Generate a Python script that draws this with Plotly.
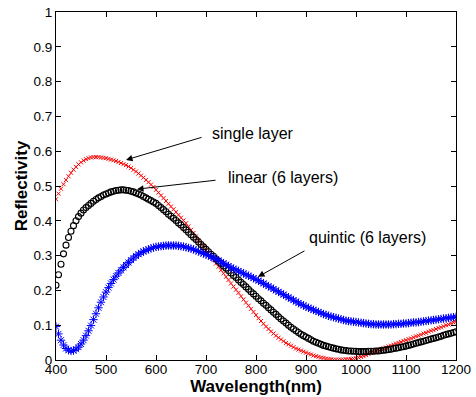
import plotly.graph_objects as go

wavelength = list(range(400, 1201, 5))

single_layer = [
    .462, .478, .492, .505, .517, .528, .538, .547, .555, .562,
    .568, .573, .577, .580, .582, .583, .583, .583, .582, .581,
    .580, .578, .576, .574, .572, .569, .566, .563, .560, .556,
    .5515, .5465, .5415, .536, .530, .524, .5175, .511, .504, .497,
    .489, .481, .473, .465, .457, .449, .441, .433, .425, .417,
    .409, .401, .393, .384, .374, .365, .355, .345, .335, .325,
    .315, .306, .296, .287, .277, .268, .258, .249, .239, .230,
    .220, .211, .202, .193, .183, .174, .165, .156, .147, .138,
    .129, .120, .112, .104, .096, .089, .082, .076, .070, .064,
    .059, .054, .049, .045, .041, .037, .033, .030, .027, .024,
    .021, .018, .016, .013, .011, .009, .007, .006, .004, .003,
    .002, .001, .001, .001, .001, .001, .002, .002, .003, .004,
    .005, .007, .009, .011, .014, .017, .020, .023, .026, .029,
    .031, .034, .036, .039, .041, .044, .047, .049, .052, .055,
    .057, .060, .062, .065, .068, .070, .073, .076, .078, .081,
    .084, .086, .089, .092, .094, .097, .100, .102, .105, .108,
    .110,
]

linear_6 = [
    .215, .245, .275, .305, .330, .352, .370, .386, .400, .412,
    .422, .431, .438, .444, .450, .456, .461, .466, .470, .474,
    .477, .480, .483, .485, .487, .488, .489, .489, .488, .487,
    .485, .483, .480, .477, .474, .470, .466, .462, .458, .454,
    .450, .444, .438, .432, .426, .419, .413, .407, .401, .394,
    .388, .381, .374, .367, .360, .353, .346, .339, .332, .325,
    .318, .311, .304, .298, .291, .284, .277, .270, .264, .257,
    .250, .243, .237, .230, .223, .217, .210, .203, .196, .190,
    .183, .176, .170, .163, .157, .150, .144, .137, .131, .124,
    .118, .112, .106, .100, .094, .089, .084, .079, .074, .070,
    .066, .062, .058, .054, .051, .048, .045, .042, .040, .038,
    .036, .034, .032, .031, .029, .028, .027, .026, .026, .025,
    .025, .024, .024, .024, .024, .025, .025, .025, .026, .026,
    .027, .028, .029, .030, .031, .033, .034, .035, .037, .038,
    .040, .042, .044, .046, .048, .050, .052, .054, .056, .058,
    .060, .062, .064, .066, .068, .071, .073, .075, .077, .079,
    .081,
]

quintic_6 = [
    .096, .075, .057, .043, .033, .028, .026, .027, .031, .037,
    .046, .057, .070, .084, .099, .116, .133, .150, .166, .181,
    .195, .208, .220, .231, .241, .250, .258, .266, .273, .280,
    .287, .293, .299, .304, .308, .312, .315, .318, .321, .323,
    .325, .326, .327, .328, .329, .329, .329, .329, .329, .328,
    .327, .326, .324, .322, .320, .318, .315, .312, .309, .306,
    .303, .300, .297, .293, .290, .286, .282, .278, .274, .270,
    .266, .262, .259, .256, .252, .249, .245, .242, .239, .235,
    .232, .228, .224, .220, .216, .212, .208, .204, .200, .196,
    .192, .188, .184, .180, .176, .172, .168, .164, .160, .157,
    .153, .150, .147, .144, .141, .138, .135, .132, .130, .127,
    .125, .123, .121, .119, .117, .115, .113, .112, .111, .110,
    .109, .108, .107, .106, .105, .104, .103, .103, .102, .102,
    .102, .102, .102, .102, .102, .103, .103, .104, .104, .105,
    .105, .106, .107, .108, .108, .109, .110, .111, .112, .113,
    .114, .115, .116, .117, .118, .119, .120, .121, .122, .123,
    .124,
]

x_ticks = [400, 500, 600, 700, 800, 900, 1000, 1100, 1200]
y_ticks = [0, 0.1, 0.2, 0.3, 0.4, 0.5, 0.6, 0.7, 0.8, 0.9, 1]
y_tick_labels = ["0", "0.1", "0.2", "0.3", "0.4", "0.5", "0.6", "0.7", "0.8", "0.9", "1"]

labels = ["single layer", "linear (6 layers)", "quintic (6 layers)"]
label_pos = [(708, 0.652), (740, 0.524), (902, 0.353)]
arrow_tail = [(694, 0.641), (722, 0.517), (900, 0.316)]
arrow_tip = [(540, 0.575), (562, 0.491), (804, 0.239)]

FONT = "Liberation Sans, Arial, Helvetica, sans-serif"

fig = go.Figure()
fig.add_trace(go.Scatter(
    x=wavelength, y=single_layer, mode="markers",
    marker=dict(symbol="x-thin", size=4, line=dict(color="#ff0000", width=1), color="#ff0000"),
    name="single layer"))
fig.add_trace(go.Scatter(
    x=wavelength, y=linear_6, mode="markers",
    marker=dict(symbol="circle-open", size=6, line=dict(color="#000000", width=1.1), color="#000000"),
    name="linear"))
fig.add_trace(go.Scatter(
    x=wavelength, y=quintic_6, mode="markers",
    marker=dict(symbol="asterisk-open", size=7, line=dict(color="#0000ff", width=1), color="#0000ff"),
    name="quintic"))

annotations = []
for txt, (tx, ty) in zip(labels, label_pos):
    annotations.append(dict(x=tx, y=ty, xref="x", yref="y", text=txt, showarrow=False,
                            xanchor="left", yanchor="middle",
                            font=dict(family=FONT, size=16, color="#000000")))
for (ax, ay), (hx, hy) in zip(arrow_tail, arrow_tip):
    annotations.append(dict(x=hx, y=hy, xref="x", yref="y", ax=ax, ay=ay, axref="x", ayref="y",
                            text="", showarrow=True, arrowhead=2, arrowsize=1.3, arrowwidth=1,
                            arrowcolor="#000000"))

fig.update_layout(
    width=476, height=397,
    margin=dict(l=56, r=20, t=12, b=37, autoexpand=False),
    paper_bgcolor="white", plot_bgcolor="white",
    showlegend=False,
    font=dict(family=FONT, size=14, color="#000000"),
    annotations=annotations,
    xaxis=dict(range=[400, 1200], tickvals=x_ticks, ticktext=[str(v) for v in x_ticks],
               ticks="inside", ticklen=5, tickcolor="#000000", mirror="allticks", automargin=False,
               showline=True, linecolor="#000000", linewidth=1, showgrid=False, zeroline=False,
               ticklabelstandoff=-3,
               tickfont=dict(size=13.5), title=dict(text="<b>Wavelength(nm)</b>", font=dict(size=17), standoff=0)),
    yaxis=dict(range=[0, 1], tickvals=y_ticks, ticktext=y_tick_labels,
               ticks="inside", ticklen=5, tickcolor="#000000", mirror="allticks", automargin=False,
               showline=True, linecolor="#000000", linewidth=1, showgrid=False, zeroline=False,
               tickfont=dict(size=13.5), title=dict(text="<b>Reflectivity</b>", font=dict(size=17), standoff=1)),
)

fig.write_html("out.html")
